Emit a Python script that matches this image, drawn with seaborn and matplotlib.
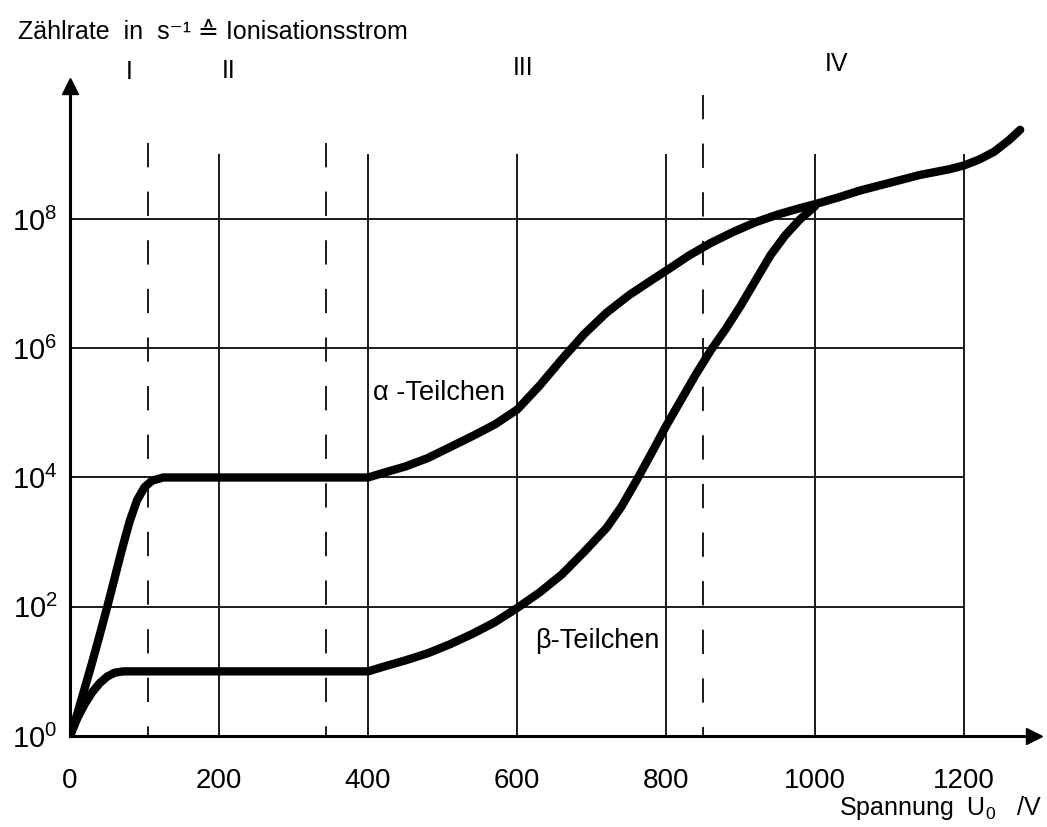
import numpy as np
import pandas as pd
import matplotlib
matplotlib.use("Agg")
import matplotlib.pyplot as plt
from matplotlib.ticker import NullLocator
import seaborn as sns

# Counting-tube characteristic: voltage U0 in V, count rate as log10 exponent
alpha_voltage = [0, 10, 20, 30, 40, 50, 60, 70, 80, 90, 100, 110, 125, 140,
                 400, 420, 450, 480, 510, 540, 570, 600, 630, 660, 690, 720, 750,
                 780, 800, 830, 860, 890, 920, 950, 980, 1000, 1030, 1060, 1100,
                 1140, 1180, 1200, 1220, 1240, 1260, 1275]
alpha_exponent = [0.0, 0.35, 0.75, 1.15, 1.57, 2.0, 2.45, 2.9, 3.32, 3.65, 3.85,
                  3.95, 4.0, 4.0,
                  4.0, 4.07, 4.17, 4.3, 4.47, 4.64, 4.82, 5.05, 5.42, 5.83, 6.22,
                  6.55, 6.82, 7.05, 7.2, 7.43, 7.63, 7.8, 7.95, 8.07, 8.17, 8.23,
                  8.33, 8.44, 8.56, 8.68, 8.77, 8.83, 8.92, 9.04, 9.22, 9.38]

beta_voltage = [0, 10, 20, 30, 40, 50, 60, 72, 400, 420, 450, 480, 510, 540, 570,
                600, 630, 660, 690, 720, 740, 760, 780, 800, 820, 840, 860, 880,
                900, 920, 940, 960, 980, 1000]
beta_exponent = [0.0, 0.28, 0.5, 0.68, 0.82, 0.92, 0.98, 1.0, 1.0, 1.07, 1.17,
                 1.28, 1.42, 1.58, 1.76, 1.98, 2.22, 2.5, 2.85, 3.22, 3.55, 3.95,
                 4.37, 4.8, 5.2, 5.6, 5.97, 6.3, 6.66, 7.05, 7.44, 7.75, 8.0, 8.2]

grid_voltages = [200, 400, 600, 800, 1000, 1200]
grid_exponents = [2, 4, 6, 8]
ytick_exponents = [0, 2, 4, 6, 8]
xtick_values = [0, 200, 400, 600, 800, 1000, 1200]

# Region boundaries (dashed) and region names
boundary_voltages = [105, 343, 850]
boundary_tops = [9.18, 9.18, 9.92]
region_names = ["I", "II", "III", "IV"]
region_voltages = [80, 213, 608, 1029]
region_exponents = [10.28, 10.29, 10.34, 10.40]

curve_labels = ["α -Teilchen", "β-Teilchen"]
curve_label_voltages = [406, 624]
curve_label_exponents = [5.31, 1.47]

sns.set_theme(style="white")
plt.rcParams["font.family"] = ["Liberation Sans", "DejaVu Sans"]
plt.rcParams["mathtext.fontset"] = "custom"
plt.rcParams["mathtext.rm"] = "Liberation Sans"
plt.rcParams["mathtext.it"] = "Liberation Sans:italic"
plt.rcParams["mathtext.bf"] = "Liberation Sans:bold"

W, H = 1047, 827
fig = plt.figure(figsize=(W / 100, H / 100), dpi=100)
ax = fig.add_axes([70 / W, (H - 736) / H, (W - 70) / W, (736 - 60) / H])

df = pd.concat([
    pd.DataFrame({"U": alpha_voltage, "rate": 10.0 ** np.array(alpha_exponent), "teil": "alpha"}),
    pd.DataFrame({"U": beta_voltage, "rate": 10.0 ** np.array(beta_exponent), "teil": "beta"}),
])

ax.set_yscale("log")
ax.set_xlim(0, 1311)
ax.set_ylim(1, 10 ** 10.46)

grid_kw = dict(color="#1a1a1a", lw=1.4, zorder=1)
ax.vlines(grid_voltages, 1, 10 ** 9.0, **grid_kw)
ax.hlines([10.0 ** e for e in grid_exponents], 0, 1200, **grid_kw)

for v, top in zip(boundary_voltages, boundary_tops):
    ax.plot([v, v], [10 ** top, 1], color="#1a1a1a", lw=1.4,
            linestyle=(0, (12.5, 12.5)), zorder=1)

sns.lineplot(data=df, x="U", y="rate", units="teil", estimator=None, sort=False,
             color="black", linewidth=6, legend=False, ax=ax, zorder=3,
             solid_joinstyle="round", solid_capstyle="round")

# Axes with arrow heads
for s in ["top", "right"]:
    ax.spines[s].set_visible(False)
ax.spines["left"].set_bounds(1, 10 ** 10.0)
ax.spines["bottom"].set_bounds(0, 1290)
for s in ["left", "bottom"]:
    ax.spines[s].set_color("black")
    ax.spines[s].set_linewidth(2.2)
ax.plot(0, 10 ** 10.05, marker="^", color="black", markersize=12, clip_on=False, zorder=5)
ax.plot(1293, 1, marker=">", color="black", markersize=12, clip_on=False, zorder=5)

ax.set_yticks([10.0 ** e for e in ytick_exponents])
ax.set_yticklabels([f"$10^{{{e}}}$" for e in ytick_exponents], fontsize=21)
ax.yaxis.set_minor_locator(NullLocator())
ax.set_xticks(xtick_values)
ax.set_xticklabels([str(v) for v in xtick_values], fontsize=20)
ax.tick_params(axis="y", length=0, pad=9, colors="black")
ax.tick_params(axis="x", length=0, pad=23, colors="black")
ax.set_xlabel("")
ax.set_ylabel("")
ax.grid(False)

for name, v, e in zip(region_names, region_voltages, region_exponents):
    ax.text(v, 10 ** e, name, fontsize=18, ha="center", va="center", color="black",
            clip_on=False)

for lab, v, e in zip(curve_labels, curve_label_voltages, curve_label_exponents):
    ax.text(v, 10 ** e, lab, fontsize=19.5, ha="left", va="center", color="black", zorder=4)

fig.text(18 / W, 1 - 32 / H, "Zählrate  in  s⁻¹ ≙ Ionisationsstrom",
         fontsize=18, ha="left", va="center", color="black")
fig.text(1042 / W, 1 - 808 / H, "Spannung  U$_0$   /V",
         fontsize=18, ha="right", va="center", color="black")

fig.savefig("out.png", dpi=100, facecolor="white")
